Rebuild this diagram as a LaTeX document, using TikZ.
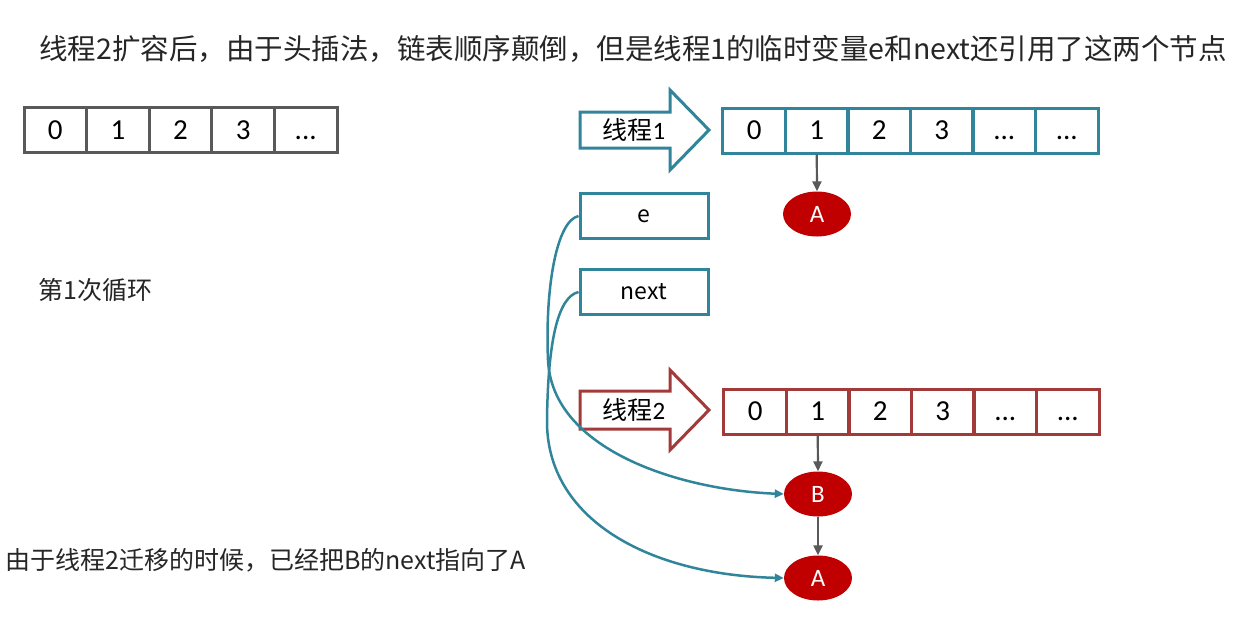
\documentclass[tikz,border=0pt]{standalone}
\usepackage{fontspec}
\setmainfont{Carlito}
\newfontfamily\cjk{Noto Sans CJK SC}
\usetikzlibrary{shapes.geometric,arrows.meta}
\definecolor{tealc}{RGB}{49,133,155}
\definecolor{redc}{RGB}{163,58,58}
\definecolor{dredc}{RGB}{192,0,0}
\definecolor{grayc}{RGB}{89,89,89}
\definecolor{txtc}{RGB}{38,38,38}
\newcommand\tdots{\vphantom{0}{.}{.}{.}}
\begin{document}
\begin{tikzpicture}[x=1pt,y=-1pt,
  cell/.style={draw=#1, line width=3pt, minimum width=62.6pt, minimum height=45pt, inner sep=0pt,
    font=\fontsize{29}{34}\selectfont, text=black},
  varbox/.style={draw=tealc, line width=3pt, fill=white, minimum width=128pt, minimum height=45pt, inner sep=0pt,
    font=\cjk\fontsize{23}{27}\selectfont, text=black},
  entry/.style={ellipse, fill=dredc, minimum width=68pt, minimum height=45pt, inner sep=0pt,
    font=\fontsize{25}{29}\selectfont, text=white},
  blockarrow/.style={draw=#1, line width=3pt, fill=white, line join=miter},
  arrlabel/.style={inner sep=0pt, text=black, font=\fontsize{25}{29}\selectfont},
  note/.style={anchor=west, inner sep=0pt, text=txtc, font=\cjk\fontsize{25}{30}\selectfont},
  grayarrow/.style={draw=grayc, line width=2.2pt, -{Triangle[length=10pt,width=9pt]}},
  ref/.style={draw=tealc, line width=2.5pt, -{Triangle[length=9pt,width=8pt]}}
]
\useasboundingbox (0,0) rectangle (1239,625);
\fill[white] (0,0) rectangle (1239,625);

% title
\node[note, font=\cjk\fontsize{28.5}{34}\selectfont] (title) at (39,49) {线程2扩容后，由于头插法，链表顺序颠倒，但是线程1的临时变量e和next还引用了这两个节点};

% left array
\node[cell=grayc] (l0) at (55.3,130) {0};
\node[cell=grayc] (l1) at (117.9,130) {1};
\node[cell=grayc] (l2) at (180.5,130) {2};
\node[cell=grayc] (l3) at (243.1,130) {3};
\node[cell=grayc] (l4) at (305.7,130) {\tdots};

\node[note] (loop) at (38,290) {第1次循环};
\node[note] (expl) at (5,560) {由于线程2迁移的时候，已经把B的next指向了A};

% thread 1
\draw[blockarrow=tealc] (580,112) -- (670,112) -- (670,90) -- (709,130) -- (670,170) -- (670,148) -- (580,148) -- cycle;
\node[arrlabel] (t1) at (634,130) {{\cjk 线程}1};
\node[cell=tealc] (a0) at (754.25,130.5) {0};
\node[cell=tealc] (a1) at (816.75,130.5) {1};
\node[cell=tealc] (a2) at (879.25,130.5) {2};
\node[cell=tealc] (a3) at (941.75,130.5) {3};
\node[cell=tealc] (a4) at (1004.25,130.5) {\tdots};
\node[cell=tealc] (a5) at (1066.75,130.5) {\tdots};
\node[entry] (nA1) at (817,214) {A};
\draw[grayarrow] (a1.south) -- (nA1.north);

% variables
\node[varbox] (e) at (644,216) {e};
\node[varbox] (nx) at (644,292) {next};

% thread 2
\draw[blockarrow=redc] (580,391) -- (670,391) -- (670,370) -- (709,410) -- (670,450) -- (670,429) -- (580,429) -- cycle;
\node[arrlabel] (t2) at (634,410) {{\cjk 线程}2};
\node[cell=redc] (b0) at (755.25,411.5) {0};
\node[cell=redc] (b1) at (817.75,411.5) {1};
\node[cell=redc] (b2) at (880.25,411.5) {2};
\node[cell=redc] (b3) at (942.75,411.5) {3};
\node[cell=redc] (b4) at (1005.25,411.5) {\tdots};
\node[cell=redc] (b5) at (1067.75,411.5) {\tdots};
\node[entry] (nB) at (818,494) {B};
\node[entry] (nA2) at (818,578) {A};
\draw[grayarrow] (b1.south) -- (nB.north);
\draw[grayarrow] (nB.south) -- (nA2.north);

% references
\coordinate (eMid) at (548,360);
\coordinate (nMid) at (547,420);
\draw[ref] (e.west) .. controls (556,221) and (545,290) .. (eMid) .. controls (552,450) and (680,490) .. (nB.west);
\draw[ref] (nx.west) .. controls (558,297) and (548,340) .. (nMid) .. controls (546,520) and (650,575) .. (nA2.west);
\end{tikzpicture}
\end{document}
